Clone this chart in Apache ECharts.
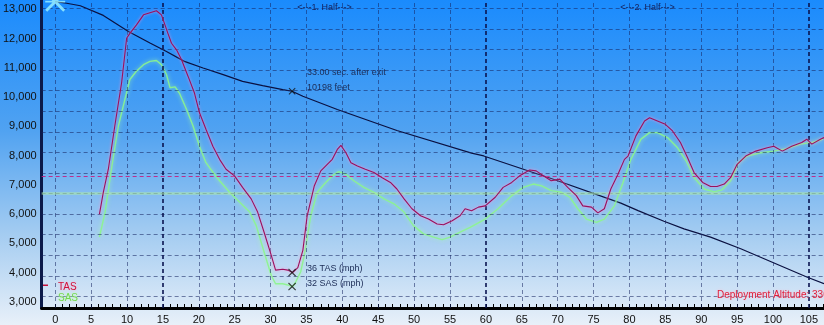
<!DOCTYPE html>
<html><head><meta charset="utf-8">
<script src="https://cdn.jsdelivr.net/npm/echarts@6/dist/echarts.min.js"></script>
<style>html,body{margin:0;padding:0;background:#fff}#c{width:824px;height:325px}</style>
</head><body><div id="c"></div>
<script>
// ---- data ----
const secondLabels = [0,5,10,15,20,25,30,35,40,45,50,55,60,65,70,75,80,85,90,95,100,105];
const altitudeLabels = [3000,4000,5000,6000,7000,8000,9000,10000,11000,12000,13000];
const halfBounds = [15, 60, 105];
const speedGridMph = [30,35,40,45,50,55,60,65,70,75,80,85,90,95,100];

const altSec  = [0,1.6,3.5,6.7,10.2,13.2,15.5,18.0,20.6,23.4,26.1,28.9,31.7,33,34.5,39.3,47.6,58.0,59.7,69.6,78.8,81.2,84.8,87.6,91.3,95.5,104.7,107.1];
const altFeet = [13260,13204,13120,12790,12238,11844,11558,11218,10993,10765,10537,10391,10255,10198,10027,9575,8854,8082,7986,7174,6374,6116,5752,5493,5211,4813,3850,3622];

const tasSec = [6.16,6.7,7.4,8.3,9.25,9.95,10.4,11.3,12.3,13.2,14.1,14.8,15.3,15.7,16.2,16.9,17.6,18.5,19.4,20.1,21.0,21.96,22.9,23.8,24.98,26.1,27.3,28.2,29.1,30.1,30.7,31.7,32.4,33.07,33.8,34.5,35.1,36.1,37.0,37.9,38.6,39.3,39.8,40.5,41.2,42.1,43.2,44.4,45.5,46.7,47.6,48.6,49.7,50.9,52.0,53.2,54.1,55.3,56.4,57.1,58.0,58.96,59.9,61.3,62.4,63.6,64.7,66.1,67.0,68.0,69.1,70.3,71.4,72.6,73.5,74.7,75.6,76.5,77.4,78.4,79.3,79.8,80.9,82.1,82.8,83.9,85.0,86.0,87.1,88.1,89.0,90.2,91.3,92.2,93.2,94.1,95.0,96.2,97.6,99.2,100.1,101.3,102.6,104.0,104.7,105.4,106.6,107.1];
const tasMph = [50.0,55.3,60.9,71.4,81.9,92.7,93.9,95.9,98.4,98.9,99.4,98.4,95.9,93.9,91.5,89.9,87.5,83.5,79.4,74.6,70.6,66.5,63.3,60.9,59.3,56.5,53.7,50.5,45.6,40.0,36.4,36.6,36.4,35.8,37.0,41.2,49.6,56.9,60.5,62.1,63.3,65.7,66.7,64.9,62.5,61.7,60.9,60.1,58.9,57.7,56.1,53.7,51.3,49.6,48.8,47.6,47.4,48.4,49.6,51.3,50.8,51.7,52.0,54.1,56.5,57.7,59.3,60.7,60.5,59.3,58.1,58.5,56.5,54.5,52.0,51.7,50.3,51.3,56.1,59.7,63.3,64.1,69.0,72.6,73.4,72.6,71.8,70.2,67.4,63.7,60.1,57.7,56.7,56.7,57.3,58.9,62.1,64.1,65.3,66.1,66.5,65.3,66.5,67.4,68.2,67.0,68.2,68.6];

const sasSec = [6.16,6.95,7.9,8.8,9.7,10.4,11.3,12.3,13.2,14.1,14.8,15.5,16.0,16.7,17.3,18.3,19.2,20.1,21.0,22.0,22.9,24.3,25.7,27.1,28.0,29.1,30.1,30.7,31.7,32.6,33.07,33.5,34.2,34.7,35.6,36.5,37.5,38.6,39.5,40.5,41.6,43.0,44.4,45.8,47.2,48.6,49.9,51.3,52.7,53.9,55.0,56.4,57.8,59.9,61.7,63.6,65.2,66.6,67.7,69.1,70.5,71.7,72.8,74.0,75.4,76.5,77.9,79.1,80.2,81.6,82.8,83.9,85.3,86.7,87.9,89.0,90.4,91.8,92.9,94.1,95.2,96.4,98.3,100.1,101.9,103.8,105.4,107.0];
const sasMph = [44.4,50.5,61.7,71.4,77.8,82.7,84.7,86.3,87.1,87.3,86.3,83.9,80.7,80.9,79.4,75.4,71.4,66.5,62.5,60.1,58.1,55.3,52.9,50.5,47.2,40.8,35.1,33.1,33.1,32.7,32.4,33.5,36.0,40.0,49.6,55.3,57.3,59.3,60.3,59.7,58.1,56.5,55.3,53.7,52.5,50.5,47.2,45.2,44.4,43.8,44.4,45.6,46.8,48.8,51.3,54.5,56.5,57.3,56.9,55.7,55.3,54.1,51.3,48.8,48.0,48.8,52.0,57.7,63.3,68.2,69.8,69.8,68.6,66.1,62.9,58.9,56.1,55.4,55.9,58.1,62.5,64.1,64.9,65.3,65.9,67.0,67.4,68.2];

const avgTasMph = 59.1;
const avgSasMph = 55.1;
const markerSec = 33;
const markerAltFeet = 10198;
const markerTasMph = 35.8;
const markerSasMph = 32.4;
const deploymentAltitude = 3300;

// ---- chart ----
const FONT = '"Liberation Sans", Arial, sans-serif';
const pairs = (xs, ys) => xs.map((x, i) => [x, ys[i]]);
const minorTicks = [];
for (let s = 0; s <= 107; s++) minorTicks.push(s);

const gridStyle = {color: 'rgba(22,36,96,0.55)', width: 1, type: [4, 3]};
const heavyStyle = {color: '#0a1450', width: 1.6, type: [4, 3]};
const gridMarks = [];
speedGridMph.forEach(v => gridMarks.push({yAxis: v, lineStyle: gridStyle}));
secondLabels.filter(v => halfBounds.indexOf(v) < 0).forEach(v => gridMarks.push({xAxis: v, lineStyle: gridStyle}));
halfBounds.forEach(v => gridMarks.push({xAxis: v, lineStyle: heavyStyle}));

const xSym = 'path://M0,1L1,0L5,4L9,0L10,1L6,5L10,9L9,10L5,6L1,10L0,9L4,5Z';
const starSym = 'path://M0,1L1,0L5,4L9,0L10,1L6,5L10,9L9,10L5,6L1,10L0,9L4,5ZM0,4.6L10,4.6L10,5.4L0,5.4Z';

const chart = echarts.init(document.getElementById('c'), null, {renderer: 'canvas'});
chart.setOption({
  animation: false,
  backgroundColor: new echarts.graphic.LinearGradient(0, 0, 0, 1, [
    {offset: 0, color: '#1a8bfd'},
    {offset: 0.4, color: '#50a2f1'},
    {offset: 0.72, color: '#a4ccf1'},
    {offset: 1, color: '#e8f0f9'}
  ]),
  grid: {left: 38, right: 0, top: 0, bottom: 15.5},
  xAxis: {
    type: 'value', min: -1.89, max: 107.1,
    axisLine: {show: true, onZero: false, lineStyle: {color: '#000', width: 3}},
    axisTick: {show: true, inside: true, length: 4, customValues: minorTicks, lineStyle: {color: '#000', width: 1}},
    axisLabel: {customValues: secondLabels, color: '#111', fontSize: 11, fontFamily: FONT, margin: 6},
    splitLine: {show: false}
  },
  yAxis: [{
    type: 'value', min: 2789, max: 13316, position: 'left',
    axisLine: {show: true, onZero: false, lineStyle: {color: '#0b1a4a', width: 3}},
    axisTick: {show: false},
    axisLabel: {customValues: altitudeLabels, formatter: v => v.toLocaleString('en-US'), color: '#111', fontSize: 11, fontFamily: FONT, margin: 5},
    splitLine: {show: false}
  }, {
    type: 'value', min: 27.2, max: 102.0, show: false, splitLine: {show: false}
  }],
  series: [
    {
      type: 'line', yAxisIndex: 1, data: [[tasSec[0], tasMph[0]]], symbol: 'none', silent: true, z: 1,
      lineStyle: {opacity: 0},
      markLine: {silent: true, symbol: 'none', label: {show: false}, animation: false, data: gridMarks}
    },
    {
      type: 'line', yAxisIndex: 1, data: [[sasSec[0], sasMph[0]]], symbol: 'none', silent: true, z: 2,
      lineStyle: {opacity: 0},
      markLine: {silent: true, symbol: 'none', label: {show: false}, animation: false, data: [
        {yAxis: avgSasMph, lineStyle: {color: 'rgba(175,235,165,0.6)', width: 2.5, type: 'solid'}},
        {yAxis: avgTasMph, lineStyle: {color: 'rgba(200,30,130,0.9)', width: 1, type: [4, 3]}}
      ]}
    },
    {
      name: 'Altitude', type: 'line', yAxisIndex: 0, data: pairs(altSec, altFeet), symbol: 'none', z: 3,
      lineStyle: {color: '#0a1040', width: 1.2}
    },
    {
      name: 'SAS', type: 'line', yAxisIndex: 1, data: pairs(sasSec, sasMph), symbol: 'none', z: 4,
      lineStyle: {color: 'rgba(140,245,140,0.9)', width: 1.4, shadowColor: 'rgba(170,255,170,0.9)', shadowBlur: 4}
    },
    {
      name: 'TAS', type: 'line', yAxisIndex: 1, data: pairs(tasSec, tasMph), symbol: 'none', z: 5,
      lineStyle: {color: '#9a0f5c', width: 1.1, shadowColor: 'rgba(255,150,215,0.95)', shadowBlur: 3}
    },
    {
      type: 'scatter', yAxisIndex: 0, z: 6, silent: true,
      data: [[markerSec, markerAltFeet]], symbol: xSym, symbolSize: 7, itemStyle: {color: '#111'}
    },
    {
      type: 'scatter', yAxisIndex: 1, z: 6, silent: true,
      data: [[markerSec, markerTasMph], [markerSec, markerSasMph]], symbol: xSym, symbolSize: 8, itemStyle: {color: '#111'}
    },
    {
      type: 'scatter', yAxisIndex: 0, z: 6, silent: true,
      data: [[altSec[0], altFeet[0]]], symbol: starSym, symbolSize: 20, itemStyle: {color: '#9ff4ff'}
    }
  ]
});

const pAlt = chart.convertToPixel({xAxisIndex: 0, yAxisIndex: 0}, [markerSec, markerAltFeet]);
const pTas = chart.convertToPixel({xAxisIndex: 0, yAxisIndex: 1}, [markerSec, markerTasMph]);
const pSas = chart.convertToPixel({xAxisIndex: 0, yAxisIndex: 1}, [markerSec, markerSasMph]);
const pH1 = chart.convertToPixel({xAxisIndex: 0, yAxisIndex: 0}, [(halfBounds[0] + halfBounds[1]) / 2, 13000]);
const pH2 = chart.convertToPixel({xAxisIndex: 0, yAxisIndex: 0}, [(halfBounds[1] + halfBounds[2]) / 2, 13000]);

const txt = (x, y, text, extra) => Object.assign({
  type: 'text', x: x, y: y, silent: true, z: 100,
  style: Object.assign({text: text, fontFamily: FONT, fontSize: 9, fill: '#1b2b55', verticalAlign: 'middle', align: 'left'}, extra || {})
});

chart.setOption({
  graphic: [
    txt(pAlt[0] + 15, pAlt[1] - 18.7, markerSec.toFixed(2) + ' sec. after exit'),
    txt(pAlt[0] + 15, pAlt[1] - 3.4, markerAltFeet + ' feet'),
    txt(pTas[0] + 15, pTas[1] - 4, Math.round(markerTasMph) + ' TAS (mph)'),
    txt(pSas[0] + 15, pSas[1] - 3.3, Math.round(markerSasMph) + ' SAS (mph)'),
    txt(pH1[0], 7.3, '<---1. Half--->', {align: 'center', fill: '#14205a'}),
    txt(pH2[0], 7.3, '<---2. Half--->', {align: 'center', fill: '#14205a'}),
    txt(717, 295, 'Deployment Altitude: ' + deploymentAltitude + ' feet', {fontSize: 10, fill: '#e0203c', textShadowColor: 'rgba(255,190,210,1)', textShadowBlur: 3}),
    {type: 'rect', silent: true, z: 100, shape: {x: 43, y: 284.5, width: 5, height: 1.5}, style: {fill: '#c0103a'}},
    txt(58, 287, 'TAS', {fontSize: 10, fill: '#d0103a', textShadowColor: 'rgba(255,180,205,1)', textShadowBlur: 3}),
    txt(58, 298, 'SAS', {fontSize: 10, fill: '#74d850', textShadowColor: 'rgba(200,255,180,1)', textShadowBlur: 3})
  ]
});
</script>
</body></html>
